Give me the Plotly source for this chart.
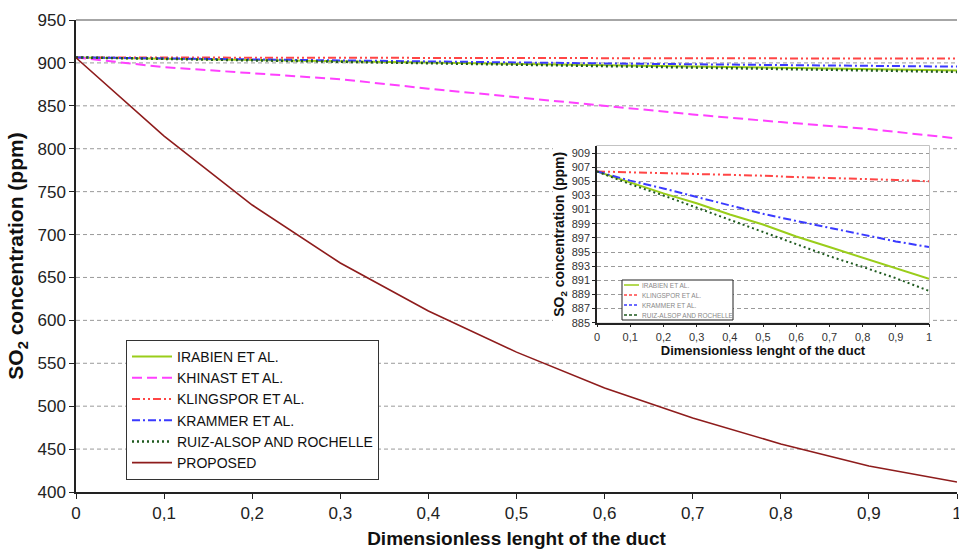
import plotly.graph_objects as go

# ---------------- data ----------------
x_pos = [0, 0.1, 0.2, 0.3, 0.4, 0.5, 0.6, 0.7, 0.8, 0.9, 1.0]

irabien   = [906.4, 904.8, 903.3, 901.9, 900.3, 898.9, 897.2, 895.7, 894.2, 892.6, 891.2]
khinast   = [906.4, 895.0, 888.0, 881.0, 870.0, 860.0, 850.0, 840.0, 831.0, 823.0, 812.0]
klingspor = [906.4, 906.3, 906.1, 906.0, 905.9, 905.8, 905.6, 905.5, 905.3, 905.2, 905.0]
krammer   = [906.4, 905.1, 904.0, 902.8, 901.5, 900.4, 899.4, 898.4, 897.4, 896.5, 895.7]
ruiz      = [906.4, 904.6, 903.0, 901.3, 899.5, 897.8, 896.1, 894.4, 892.9, 891.3, 889.5]
proposed  = [906.0, 814.8, 734.4, 666.8, 610.9, 563.0, 521.2, 486.2, 456.0, 430.3, 411.7]

names = ["IRABIEN ET AL.", "KHINAST ET AL.", "KLINGSPOR ET AL.", "KRAMMER ET AL.",
         "RUIZ-ALSOP AND ROCHELLE", "PROPOSED"]

x_tickvals = [0, 0.1, 0.2, 0.3, 0.4, 0.5, 0.6, 0.7, 0.8, 0.9, 1]
x_ticktext = ["0", "0,1", "0,2", "0,3", "0,4", "0,5", "0,6", "0,7", "0,8", "0,9", "1"]
y_main_ticks = [400, 450, 500, 550, 600, 650, 700, 750, 800, 850, 900, 950]
y_inset_ticks = [885, 887, 889, 891, 893, 895, 897, 899, 901, 903, 905, 907, 909]

# ---------------- styles ----------------
FONT = "Liberation Sans, Arial, sans-serif"
GRID = "#9a9a9a"
GRIDDASH = "4px,3px"
styles = {
    "IRABIEN ET AL.": dict(color="#9acd1a", dash="solid", width=2),
    "KHINAST ET AL.": dict(color="#ff40ff", dash="10px,5px", width=2),
    "KLINGSPOR ET AL.": dict(color="#ff4545", dash="8px,3px,2px,3px,2px,3px", width=2),
    "KRAMMER ET AL.": dict(color="#3a3aff", dash="8px,3px,2px,3px", width=2),
    "RUIZ-ALSOP AND ROCHELLE": dict(color="#1f5a1f", dash="2px,3px", width=2.5),
    "PROPOSED": dict(color="#8e1c1c", dash="solid", width=1.6),
}
series = [irabien, khinast, klingspor, krammer, ruiz, proposed]

fig = go.Figure()
for name, ys in zip(names, series):
    fig.add_trace(go.Scatter(x=x_pos, y=ys, mode="lines", name=name,
                             line=styles[name], xaxis="x", yaxis="y"))

inset_names = ["IRABIEN ET AL.", "KLINGSPOR ET AL.", "KRAMMER ET AL.", "RUIZ-ALSOP AND ROCHELLE"]
inset_series = [irabien, klingspor, krammer, ruiz]
for name, ys in zip(inset_names, inset_series):
    st = dict(styles[name])
    st["width"] = 2
    fig.add_trace(go.Scatter(x=x_pos, y=ys, mode="lines", name=name, showlegend=False,
                             line=st, xaxis="x2", yaxis="y2"))

# geometry helpers (pixel -> paper / main-domain fractions)
L, R, T, B = 76, 2, 20, 59
W, H = 959, 551
PW, PH = W - L - R, H - T - B


def px(x):
    return (x - L) / PW


def py(y):
    return (H - B - y) / PH


shapes = []
# main gridlines (interrupted where the inset block sits)
inset_gap = (px(553), px(933))
inset_rows = (590, 810)
for v in y_main_ticks[1:-1]:
    if inset_rows[0] <= v <= inset_rows[1]:
        segs = [(0, inset_gap[0]), (inset_gap[1], 1)]
    else:
        segs = [(0, 1)]
    for a, b in segs:
        shapes.append(dict(type="line", xref="x domain", yref="y", x0=a, x1=b, y0=v, y1=v,
                           line=dict(color=GRID, width=1, dash=GRIDDASH), layer="below"))
# top border of main plot
shapes.append(dict(type="line", xref="x domain", yref="y domain", x0=0, x1=1, y0=1, y1=1,
                   line=dict(color="#a6a6a6", width=2), layer="above"))
# inset border (grey top/right)
shapes.append(dict(type="rect", xref="x2 domain", yref="y2 domain", x0=0, x1=1, y0=0, y1=1,
                   line=dict(color="#b0b0b0", width=1.5), layer="below"))
# inset legend box
shapes.append(dict(type="rect", xref="paper", yref="paper", x0=px(622), x1=px(733),
                   y0=py(320), y1=py(280), fillcolor="white",
                   line=dict(color="#222", width=1), layer="above"))

annotations = []
row_y = [285, 295, 305, 315]
for name, ry in zip(inset_names, row_y):
    st = styles[name]
    shapes.append(dict(type="line", xref="paper", yref="paper", x0=px(624), x1=px(639),
                       y0=py(ry), y1=py(ry),
                       line=dict(color=st["color"],
                                 dash="solid" if name == "IRABIEN ET AL." else "3px,2px",
                                 width=1.5), layer="above"))
    annotations.append(dict(xref="paper", yref="paper", x=px(640), y=py(ry), text=name,
                            showarrow=False, xanchor="left", yanchor="middle",
                            font=dict(family=FONT, size=6.5, color="#888")))

fig.update_layout(
    template="none",
    width=W, height=H,
    margin=dict(l=L, r=R, t=T, b=B, pad=0),
    paper_bgcolor="white", plot_bgcolor="white",
    font=dict(family=FONT, color="#222"),
    showlegend=True,
    legend=dict(x=px(126), y=py(340), xanchor="left", yanchor="top",
                bgcolor="white", bordercolor="#333", borderwidth=1,
                font=dict(family=FONT, size=14, color="#111"),
                itemwidth=40, tracegroupgap=0),
    xaxis=dict(domain=[0, 1], range=[0, 1], tickvals=x_tickvals, ticktext=x_ticktext,
               ticks="outside", ticklen=5, tickcolor="#222", showline=True,
               linecolor="#222", linewidth=1.5, showgrid=False, zeroline=False,
               tickfont=dict(size=17, color="#222"), automargin=False,
               ticklabeloverflow="allow",
               title=dict(text="<b>Dimensionless lenght of the duct</b>",
                          font=dict(size=19, color="#111"), standoff=10)),
    yaxis=dict(range=[400, 950], tickvals=y_main_ticks, ticks="outside", ticklen=5,
               tickcolor="#222", showline=True, linecolor="#222", linewidth=1.5,
               showgrid=False, zeroline=False, tickfont=dict(size=17, color="#222"),
               automargin=False,
               title=dict(text="<b>SO<sub>2</sub> concentration (ppm)</b>",
                          font=dict(size=21, color="#111"), standoff=8)),
    xaxis2=dict(domain=[px(597), px(929)], anchor="y2", range=[0, 1],
                tickvals=x_tickvals, ticktext=x_ticktext, ticks="outside", ticklen=3,
                tickcolor="#222", showline=True, linecolor="#222", linewidth=1.5,
                showgrid=False, zeroline=False, tickfont=dict(size=11, color="#333"),
                automargin=False,
                title=dict(text="<b>Dimensionless lenght of the duct</b>",
                           font=dict(size=13, color="#111"), standoff=2)),
    yaxis2=dict(domain=[py(322.7), py(146)], anchor="x2", range=[885, 910],
                tickvals=y_inset_ticks, ticks="outside", ticklen=3, tickcolor="#222",
                showline=True, linecolor="#222", linewidth=1.5, showgrid=True,
                gridcolor=GRID, griddash=GRIDDASH, gridwidth=1, zeroline=False,
                tickfont=dict(size=11, color="#333"), automargin=False,
                title=dict(text="<b>SO<sub>2</sub> concentration (ppm)</b>",
                           font=dict(size=14, color="#111"), standoff=4)),
    shapes=shapes,
    annotations=annotations,
)

fig.write_html("out.html", config={"displayModeBar": False},
               post_script="document.body.style.margin='0';document.body.style.padding='0';")
